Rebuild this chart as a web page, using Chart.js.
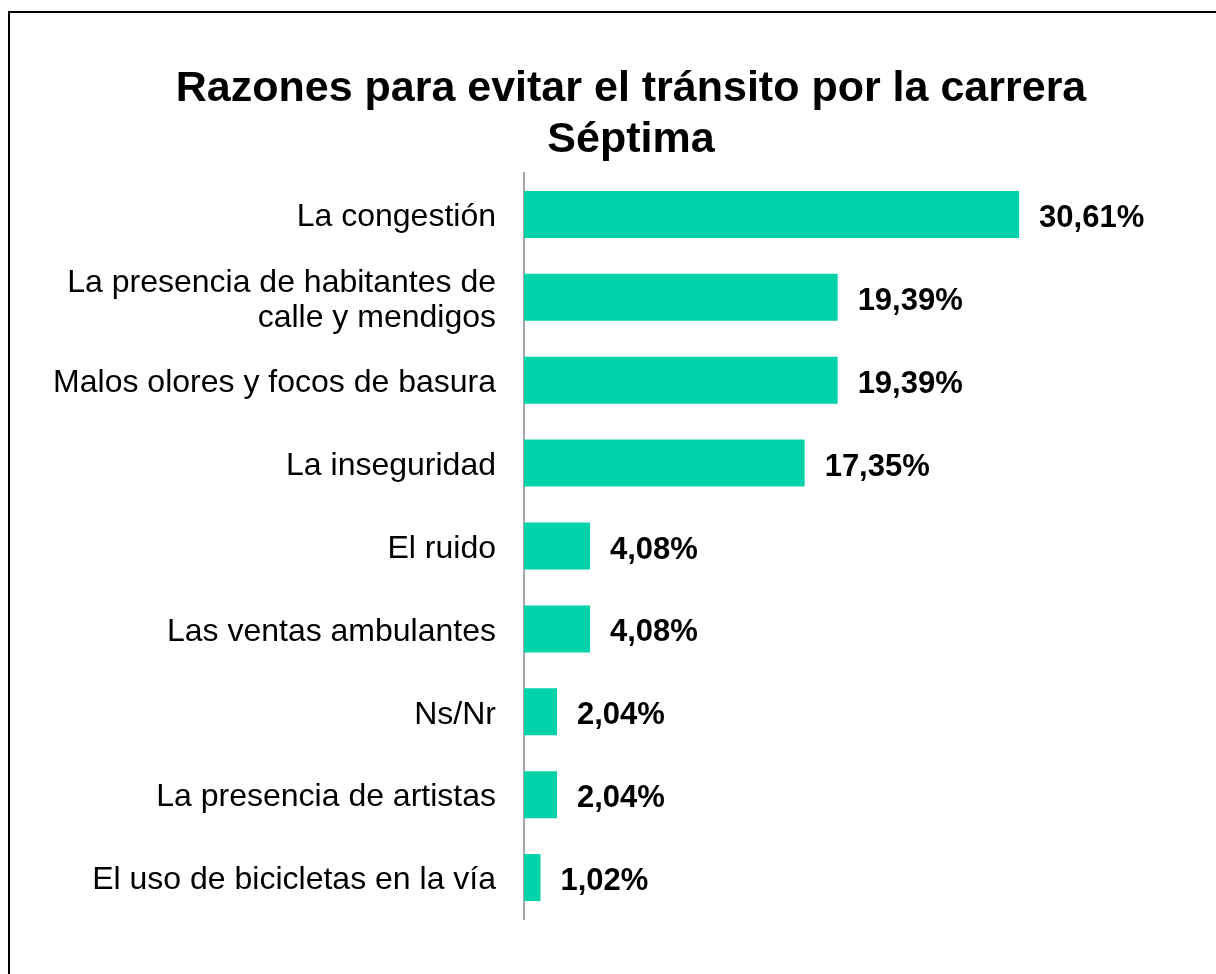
<!DOCTYPE html>
<html>
<head>
<meta charset="utf-8">
<script src="https://cdn.jsdelivr.net/npm/chart.js@4"></script>
<style>
  html, body { margin: 0; padding: 0; background: #fff; overflow: hidden; }
  #wrap { position: relative; width: 1216px; height: 974px; }
  #frame { position: absolute; left: 8px; top: 11px; width: 1300px; height: 1300px; border: 2px solid #000; box-sizing: border-box; }
  canvas { position: absolute; left: 0; top: 0; }
</style>
</head>
<body>
<div id="wrap">
  <div id="frame"></div>
  <canvas id="c" width="1216" height="974"></canvas>
</div>
<script>
const titleLines = ['Razones para evitar el tránsito por la carrera', 'Séptima'];
const categories = [
  'La congestión',
  ['La presencia de habitantes de', 'calle y mendigos'],
  'Malos olores y focos de basura',
  'La inseguridad',
  'El ruido',
  'Las ventas ambulantes',
  'Ns/Nr',
  'La presencia de artistas',
  'El uso de bicicletas en la vía'
];
const values = [30.61, 19.39, 19.39, 17.35, 4.08, 4.08, 2.04, 2.04, 1.02];

const FONT = "'Liberation Sans', Arial, Helvetica, sans-serif";

const valueLabels = {
  id: 'valueLabels',
  afterDatasetsDraw(chart) {
    const ctx = chart.ctx;
    const meta = chart.getDatasetMeta(0);
    ctx.save();
    ctx.font = 'bold 31px ' + FONT;
    ctx.fillStyle = '#000';
    ctx.textAlign = 'left';
    ctx.textBaseline = 'middle';
    meta.data.forEach((bar, i) => {
      const txt = values[i].toFixed(2).replace('.', ',') + '%';
      ctx.fillText(txt, bar.x + 20, bar.y + 4);
    });
    ctx.restore();
  }
};

const chartTitle = {
  id: 'chartTitle',
  afterDraw(chart) {
    const ctx = chart.ctx;
    ctx.save();
    ctx.font = 'bold 43px ' + FONT;
    ctx.fillStyle = '#000';
    ctx.textAlign = 'center';
    ctx.textBaseline = 'middle';
    titleLines.forEach((line, i) => {
      ctx.fillText(line, 631, 89 + i * 51.6);
    });
    ctx.restore();
  }
};

new Chart(document.getElementById('c'), {
  type: 'bar',
  data: {
    labels: categories,
    datasets: [{
      data: values,
      backgroundColor: '#00D3AA',
      borderWidth: 0,
      categoryPercentage: 1.0,
      barPercentage: 0.567
    }]
  },
  options: {
    indexAxis: 'y',
    responsive: false,
    animation: false,
    devicePixelRatio: 1,
    layout: { padding: { left: 0, right: 45, top: 173, bottom: 55 } },
    plugins: {
      legend: { display: false },
      tooltip: { enabled: false },
      title: { display: false }
    },
    scales: {
      x: {
        display: false,
        min: 0,
        max: 40
      },
      y: {
        afterFit(scale) { scale.width = 524; },
        grid: { display: false, drawTicks: false },
        border: { display: true, color: '#A6A6A6', width: 2 },
        ticks: {
          color: '#000',
          padding: 28,
          labelOffset: 3,
          font: { family: FONT, size: 32, lineHeight: 1.1 }
        }
      }
    }
  },
  plugins: [valueLabels, chartTitle]
});
</script>
</body>
</html>
